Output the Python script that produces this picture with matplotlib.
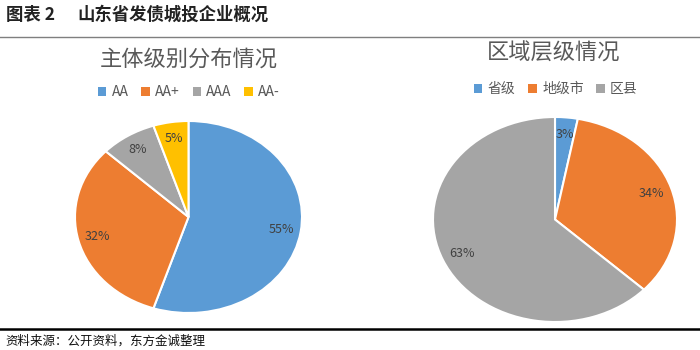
import matplotlib
matplotlib.use("Agg")
import matplotlib.pyplot as plt
from matplotlib.patches import Patch
from matplotlib.lines import Line2D

plt.rcParams['font.family'] = ['Noto Sans CJK SC', 'DejaVu Sans']

# 主体级别分布
rating_labels = ["AA", "AA+", "AAA", "AA-"]
rating_share = [55, 32, 8, 5]
rating_colors = ["#5B9BD5", "#ED7D31", "#A5A5A5", "#FFC000"]

# 区域层级分布
level_labels = ["省级", "地级市", "区县"]
level_share = [3, 34, 63]
level_colors = ["#5B9BD5", "#ED7D31", "#A5A5A5"]

fig = plt.figure(figsize=(7, 3.5), dpi=100)
W, H = 700, 350


def px_axes(x0, y0, x1, y1):
    """Axes from pixel box (top-left origin)."""
    return fig.add_axes([x0 / W, 1 - y1 / H, (x1 - x0) / W, (y1 - y0) / H])


def draw_pie(ax, values, colors):
    ax.pie(values, colors=colors, startangle=90, counterclock=False,
           autopct='%.0f%%', pctdistance=0.83,
           wedgeprops=dict(edgecolor="white", linewidth=1.5),
           textprops=dict(fontsize=9, color="#404040"))
    ax.set_aspect('auto')
    ax.set_xlim(-1, 1)
    ax.set_ylim(-1, 1)
    ax.axis('off')


ax1 = px_axes(75, 121, 302, 313)
draw_pie(ax1, rating_share, rating_colors)
ax2 = px_axes(433, 117, 677, 322)
draw_pie(ax2, level_share, level_colors)

# 标题与图例
fig.text(189 / W, 1 - 59 / H, "主体级别分布情况", ha="center", va="center",
         fontsize=16, color="#595959")
fig.text(554 / W, 1 - 53 / H, "区域层级情况", ha="center", va="center",
         fontsize=16, color="#595959")

for labels, colors, cx, cy in [(rating_labels, rating_colors, 189, 92),
                                (level_labels, level_colors, 556, 89)]:
    handles = [Patch(facecolor=c, edgecolor="none") for c in colors]
    fig.legend(handles, labels, loc="center", bbox_to_anchor=(cx / W, 1 - cy / H),
               ncol=len(labels), frameon=False, fontsize=10,
               handlelength=0.6, handleheight=0.6, handletextpad=0.4,
               columnspacing=0.9, labelcolor="#595959")

# 页眉、页脚
fig.text(6 / W, 1 - 15 / H, "图表 2", ha="left", va="center",
         fontsize=12.5, fontweight="bold", color="#222222")
fig.text(77 / W, 1 - 15 / H, "山东省发债城投企业概况", ha="left", va="center",
         fontsize=12.5, fontweight="bold", color="#222222")
fig.add_artist(Line2D([0, 1], [1 - 36.5 / H] * 2, color="#7f7f7f", linewidth=1))
fig.add_artist(Line2D([0, 1], [1 - 328.5 / H] * 2, color="black", linewidth=1.8))
fig.text(5 / W, 1 - 341 / H, "资料来源：公开资料，东方金诚整理", ha="left", va="center",
         fontsize=9, color="#111111")

fig.savefig("out.png", dpi=100, facecolor="white")
